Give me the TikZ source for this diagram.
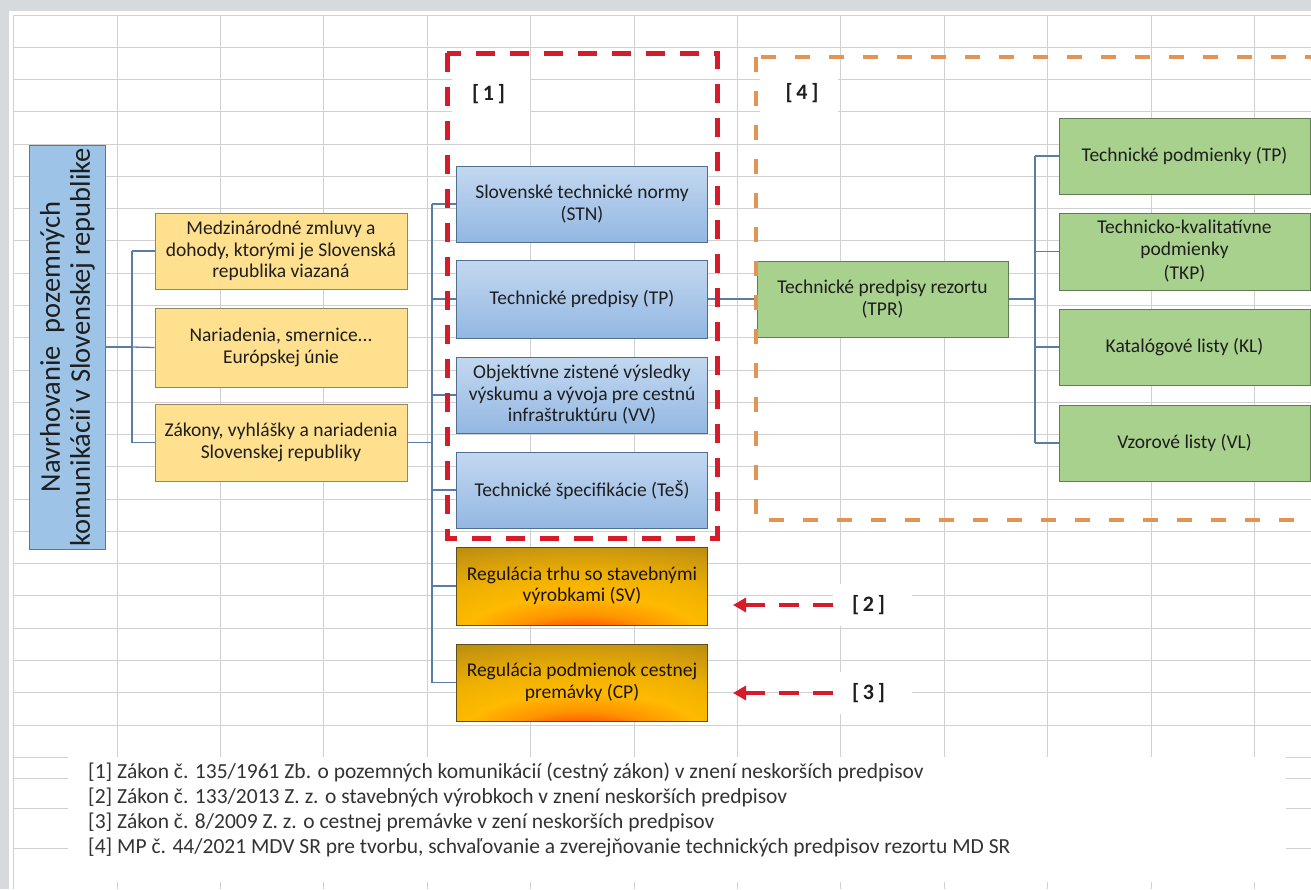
\documentclass[tikz,border=0pt]{standalone}
\usepackage{fontspec}
\setmainfont{Carlito}
\usetikzlibrary{arrows.meta}
\definecolor{gridc}{HTML}{D0D0D0}
\definecolor{stripc}{HTML}{D6DADD}
\definecolor{txt}{HTML}{1E1E1E}
\definecolor{conn}{HTML}{5A7CA6}
\definecolor{mainfill}{HTML}{9DC3E6}
\definecolor{mainborder}{HTML}{5B7794}
\definecolor{bluetop}{HTML}{C3D8F0}
\definecolor{bluebot}{HTML}{93B7E2}
\definecolor{blueborder}{HTML}{4F6F91}
\definecolor{yelfill}{HTML}{FFE08F}
\definecolor{yelborder}{HTML}{958661}
\definecolor{grfill}{HTML}{A9D18E}
\definecolor{grborder}{HTML}{5F7C52}
\definecolor{redd}{HTML}{D61C2B}
\definecolor{orand}{HTML}{E39352}
\definecolor{goldborder}{HTML}{5E4C1A}
\definecolor{glowA}{HTML}{FF2200}
\definecolor{glowB}{HTML}{FF4A00}
\definecolor{glowC}{HTML}{FF9400}
\definecolor{glowD}{HTML}{FFBA00}
\definecolor{glowE}{HTML}{EEB000}
\definecolor{glowF}{HTML}{CC980E}
\definecolor{glowG}{HTML}{A8800C}
\definecolor{glowH}{HTML}{8C6A0A}
\definecolor{glowI}{HTML}{7A5C08}
\pgfdeclareradialshading{goldglow}{\pgfpoint{0bp}{-40bp}}{%
color(0bp)=(glowA); color(8bp)=(glowB); color(15bp)=(glowC); color(23bp)=(glowD);
color(33bp)=(glowE); color(44bp)=(glowF); color(56bp)=(glowG); color(70bp)=(glowH); color(90bp)=(glowI)}
\begin{document}
\begin{tikzpicture}[x=1pt,y=-1pt,
  cell/.style={draw=gridc, line width=0.8pt},
  boxbase/.style={line width=1pt, minimum width=251pt, minimum height=76pt, align=center,
    inner sep=2pt, text=txt, font=\fontsize{19.5}{21.5}\selectfont},
  yelbox/.style={boxbase, draw=yelborder, fill=yelfill},
  bluebox/.style={boxbase, draw=blueborder, top color=bluetop, bottom color=bluebot},
  greenbox/.style={boxbase, draw=grborder, fill=grfill},
  goldbox/.style={boxbase, draw=goldborder, shade, shading=goldglow, text=black!85!brown},
  link/.style={draw=conn, line width=1.3pt},
  refmark/.style={font=\bfseries\fontsize{22}{24}\selectfont, text=txt, inner sep=1pt},
  whitepatch/.style={fill=white, draw=none},
  reddash/.style={draw=redd, line width=5pt, dash pattern=on 19pt off 15pt},
  orangedash/.style={draw=orand, line width=4pt, dash pattern=on 15pt off 19pt},
  refarrow/.style={draw=redd, line width=4.5pt, dash pattern=on 20pt off 14pt,
    -{Triangle[length=13pt,width=14pt]}}
]
\useasboundingbox (0,0) rectangle (1311,889);
\begin{scope}
\clip (0,0) rectangle (1311,889);
\fill[white] (0,0) rectangle (1311,889);
% spreadsheet grid
\foreach \k in {0,...,23} {\draw[cell] (13,{15+32.27*\k}) -- (1311,{15+32.27*\k});}
\foreach \k in {0,...,11} {\draw[cell] ({117+103.4*\k},15) -- ({117+103.4*\k},889);}
\draw[cell] (13,15) -- (13,889);
\foreach \yy in {778,808,848} {\draw[cell] (13,\yy) -- (68,\yy); \draw[cell] (1286,\yy) -- (1311,\yy);}
% grey window strips
\fill[stripc] (0,0) rectangle (1311,11);
\fill[stripc] (0,0) rectangle (9,889);
% white patches behind texts
\fill[whitepatch] (68,757) rectangle (1286,882);
\fill[whitepatch] (452,58) rectangle (530,117);
\fill[whitepatch] (760,61) rectangle (838,117);
\fill[whitepatch] (833,584) rectangle (912,626);
\fill[whitepatch] (833,672) rectangle (912,714);

% main node
\node[draw=mainborder, line width=1pt, fill=mainfill, minimum width=404pt, minimum height=76pt,
  rotate=90, align=center, text=txt, font=\fontsize{28.5}{30}\selectfont, inner sep=1pt]
  (main) at (67.5,347) {Navrhovanie\ \ pozemných\\komunikácií v Slovenskej republike};

% yellow nodes
\node[yelbox, minimum width=252pt] (y1) at (281,251) {Medzinárodné zmluvy a\\dohody, ktorými je Slovenská\\republika viazaná};
\node[yelbox, minimum width=252pt, minimum height=79pt] (y2) at (281,347.5) {Nariadenia, smernice...\\Európskej únie};
\node[yelbox, minimum width=252pt, minimum height=77pt] (y3) at (281,442.5) {Zákony, vyhlášky a nariadenia\\Slovenskej republiky};

% blue nodes
\node[bluebox] (b1) at (582,204) {Slovenské technické normy\\(STN)};
\node[bluebox, minimum height=78pt] (b2) at (582,299) {Technické predpisy (TP)};
\node[bluebox] (b3) at (582,395) {Objektívne zistené výsledky\\výskumu a vývoja pre cestnú\\infraštruktúru (VV)};
\node[bluebox] (b4) at (582,490) {Technické špecifikácie (TeŠ)};

% gold nodes
\node[goldbox, minimum height=78pt] (o1) at (582,586) {Regulácia trhu so stavebnými\\výrobkami (SV)};
\node[goldbox, minimum height=77pt] (o2) at (582,682.5) {Regulácia podmienok cestnej\\premávky (CP)};

% green nodes
\node[greenbox] (tpr) at (882.5,299) {Technické predpisy rezortu\\(TPR)};
\node[greenbox] (g1) at (1184.5,156) {Technické podmienky (TP)};
\node[greenbox, minimum height=77pt] (g2) at (1184.5,251.5) {Technicko-kvalitatívne\\podmienky\\[3pt](TKP)};
\node[greenbox] (g3) at (1184.5,347) {Katalógové listy (KL)};
\node[greenbox] (g4) at (1184.5,443) {Vzorové listy (VL)};

% connectors
\coordinate (j1) at (132,347);
\draw[link] (main.south) -- (j1);
\draw[link] (j1 |- y1.west) -- (j1 |- y3.west);
\draw[link] (j1 |- y1.west) -- (y1.west);
\draw[link] (j1) -- (y2.west);
\draw[link] (j1 |- y3.west) -- (y3.west);

\coordinate (j2) at (432,442.5);
\draw[link] (y3.east) -- (j2);
\draw[link] (j2 |- b1.west) -- (j2 |- o2.west);
\foreach \n in {b1,b2,b3,b4,o1,o2} {\draw[link] (j2 |- \n.west) -- (\n.west);}

\draw[link] (b2.east) -- (tpr.west);

\coordinate (j3) at (1035,299);
\draw[link] (tpr.east) -- (j3);
\draw[link] (j3 |- g1.west) -- (j3 |- g4.west);
\foreach \n in {g1,g2,g3,g4} {\draw[link] (j3 |- \n.west) -- (\n.west);}

% dashed frames
\draw[reddash] (447,53) rectangle (717,538);
\draw[orangedash] (756,57) rectangle (1340,520);

% reference marks
\node[refmark] (r1) at (488.5,94) {[\,1\,]};
\node[refmark] (r4) at (802,93) {[\,4\,]};
\node[refmark] (r2) at (868.5,605) {[\,2\,]};
\node[refmark] (r3) at (868.5,693) {[\,3\,]};
\coordinate (t2) at (733,605);
\coordinate (t3) at (733,693);
\draw[refarrow] (833,605) coordinate (s2) -- (t2);
\draw[refarrow] (833,693) coordinate (s3) -- (t3);

% footnotes
\node[anchor=north west, align=left, text=black!80, inner sep=0pt,
  font=\fontsize{21.5}{25}\selectfont] (notes) at (88,763)
  {[1] Zákon č. 135/1961 Zb. o pozemných komunikácií (cestný zákon) v znení neskorších predpisov\\{}%
   [2] Zákon č. 133/2013 Z. z. o stavebných výrobkoch v znení neskorších predpisov\\{}%
   [3] Zákon č. 8/2009 Z. z. o cestnej premávke v zení neskorších predpisov\\{}%
   [4] MP č. 44/2021 MDV SR pre tvorbu, schvaľovanie a zverejňovanie technických predpisov rezortu MD SR};
\end{scope}
\end{tikzpicture}
\end{document}
